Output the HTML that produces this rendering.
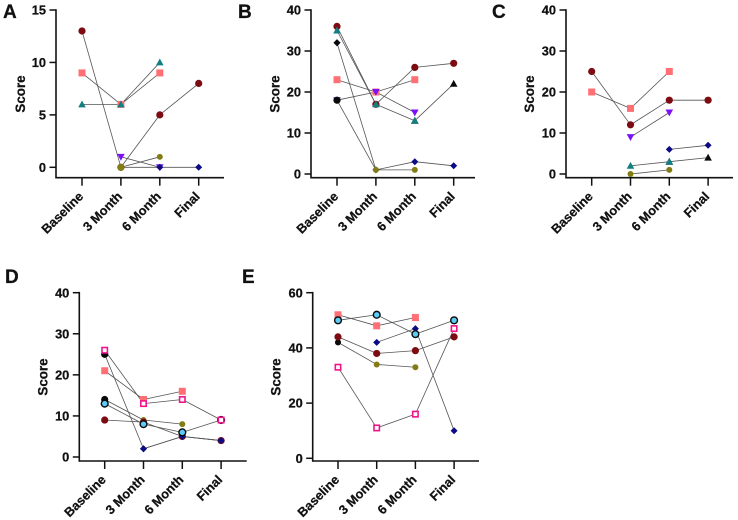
<!DOCTYPE html>
<html>
<head>
<meta charset="utf-8">
<title>Score charts</title>
<style>
html,body{margin:0;padding:0;background:#fff;width:738px;height:520px;overflow:hidden}
svg{display:block;filter:blur(0.35px)}
text{font-family:"Liberation Sans",sans-serif;font-weight:bold;fill:#111;stroke:#111;stroke-width:0.25px}
</style>
</head>
<body>
<svg id="figure" width="738" height="520" viewBox="0 0 738 520" xmlns="http://www.w3.org/2000/svg"></svg>
<script>
const categories = ['Baseline', '3 Month', '6 Month', 'Final'];
const yLabel = 'Score';

const ticksA = [0, 5, 10, 15];
const ticksB = [0, 10, 20, 30, 40];
const ticksC = [0, 10, 20, 30, 40];
const ticksD = [0, 10, 20, 30, 40];
const ticksE = [0, 20, 40, 60];

const aSalmon = [9, 6, 9, null];
const aTeal = [6, 6, 10, null];
const aPurple = [null, 1, 0, null];
const aNavy = [null, 0, 0, 0];
const aMaroon = [13, 0, 5, 8];
const aOlive = [null, 0, 1, null];
const aOliveCover = [null, 0, null, null];

const bNavy = [32, 1, 3, 2];
const bOlive = [18, 1, 1, null];
const bPurple = [18, 20, 15, null];
const bBlackCircle = [18, null, null, null];
const bBlackDiamond = [32, null, null, null];
const bBlackTriangle = [null, null, 13, 22];
const bMaroon = [36, 17, 26, 27];
const bSalmon = [23, 20, 23, null];
const bTeal = [35, 17, 13, null];

const cMaroon = [25, 12, 18, 18];
const cSalmon = [20, 16, 25, null];
const cPurple = [null, 9, 15, null];
const cNavy = [null, null, 6, 7];
const cBlackTriangle = [null, null, 3, 4];
const cTeal = [null, 2, 3, null];
const cOlive = [null, 0, 1, null];

const dNavy = [25, 2, 5, 4];
const dOlive = [14, 9, 8, null];
const dBlackTop = [25, null, null, null];
const dBlackMid = [14, null, null, null];
const dSalmon = [21, 14, 16, null];
const dMaroon = [9, 8.5, 5, 4];
const dNavyTop = [null, 2, 5, 4];
const dBlue = [13, 8, 6, 9];
const dPink = [26, 13, 14, 9];

const eSalmon = [52, 48, 51, null];
const eOlive = [42, 34, 33, null];
const eBlack = [42, null, null, null];
const eMaroon = [44, 38, 39, 44];
const eNavy = [null, 42, 47, 10];
const eBlue = [50, 52, 45, 50];
const ePink = [33, 11, 16, 47];

const NS = 'http://www.w3.org/2000/svg';
const svg = document.getElementById('figure');

function make(parent, tag, attrs) {
  const el = document.createElementNS(NS, tag);
  for (const k in attrs) el.setAttribute(k, attrs[k]);
  parent.appendChild(el);
  return el;
}

const colors = {
  salmon: '#ff6f73', teal: '#128082', purple: '#7a12f5', navy: '#0b0b86',
  maroon: '#7d0c12', olive: '#827c12', black: '#0a0a0a', blue: '#5ccbf5', pink: '#f0148c'
};

function drawMarker(g, kind, color, x, y) {
  const c = colors[color];
  let el;
  if (kind === 'circle') {
    el = make(g, 'circle', {cx: x, cy: y, r: 3.6, fill: c});
  } else if (kind === 'small-circle') {
    el = make(g, 'circle', {cx: x, cy: y, r: 3, fill: c});
  } else if (kind === 'square') {
    el = make(g, 'rect', {x: x - 3.5, y: y - 3.5, width: 7, height: 7, fill: c});
  } else if (kind === 'triangle') {
    el = make(g, 'polygon', {points: (x - 3.8) + ',' + (y + 3) + ' ' + (x + 3.8) + ',' + (y + 3) + ' ' + x + ',' + (y - 3.9), fill: c});
  } else if (kind === 'inverted-triangle') {
    el = make(g, 'polygon', {points: (x - 3.8) + ',' + (y - 3) + ' ' + (x + 3.8) + ',' + (y - 3) + ' ' + x + ',' + (y + 3.9), fill: c});
  } else if (kind === 'diamond') {
    el = make(g, 'polygon', {points: x + ',' + (y - 3.5) + ' ' + (x + 3.5) + ',' + y + ' ' + x + ',' + (y + 3.5) + ' ' + (x - 3.5) + ',' + y, fill: c});
  } else if (kind === 'ring') {
    el = make(g, 'circle', {cx: x, cy: y, r: 3.4, fill: c, stroke: '#0a0a0a', 'stroke-width': 1.4});
  } else if (kind === 'open-square') {
    el = make(g, 'rect', {x: x - 2.7, y: y - 2.7, width: 5.4, height: 5.4, fill: '#fff', stroke: c, 'stroke-width': 1.6});
  }
  
  
}

function drawPanel(p) {
  const g = make(svg, 'g', {});
  
  

  const xAt = i => p.firstX + i * p.stepX;
  const maxTick = p.ticks[p.ticks.length - 1];
  const yAt = v => p.zeroY + (p.topY - p.zeroY) * v / maxTick;

  const letter = make(g, 'text', {x: p.letterX, y: p.letterY, 'font-size': 19});
  letter.textContent = p.letter;
  
  

  const title = make(g, 'text', {x: 0, y: 0, 'font-size': 13.4, 'text-anchor': 'middle',
    transform: 'translate(' + p.titleX + ' ' + p.titleY + ') rotate(-90)'});
  title.textContent = yLabel;
  
  

  const yAxis = make(g, 'line', {x1: p.axisX, y1: p.topY - 0.8, x2: p.axisX, y2: p.axisY + 0.8, stroke: '#111', 'stroke-width': 1.6});
  
  
  const xAxis = make(g, 'line', {x1: p.axisX, y1: p.axisY, x2: p.axisEnd, y2: p.axisY, stroke: '#111', 'stroke-width': 1.6});
  
  

  p.ticks.forEach(t => {
    const y = yAt(t);
    const tick = make(g, 'line', {x1: p.axisX - 6.5, y1: y, x2: p.axisX, y2: y, stroke: '#111', 'stroke-width': 1.5});
    
    
    const lab = make(g, 'text', {x: p.axisX - 10, y: y + 4.6, 'font-size': 12.8, 'text-anchor': 'end'});
    lab.textContent = t;
    
    
  });

  categories.forEach((c, i) => {
    const x = xAt(i);
    const tick = make(g, 'line', {x1: x, y1: p.axisY, x2: x, y2: p.axisY + 8, stroke: '#111', 'stroke-width': 1.5});
    
    
    const lab = make(g, 'text', {x: 0, y: 0, 'font-size': 12.8, 'text-anchor': 'end',
      transform: 'translate(' + (x + 2) + ' ' + (p.axisY + 19.5) + ') rotate(-45)'});
    lab.textContent = c;
    
    
  });

  p.series.forEach(s => {
    for (let i = 0; i < s.values.length - 1; i++) {
      if (s.values[i] === null || s.values[i + 1] === null) continue;
      const seg = make(g, 'line', {x1: xAt(i), y1: yAt(s.values[i]), x2: xAt(i + 1), y2: yAt(s.values[i + 1]), stroke: '#555', 'stroke-width': 0.8});
      
      
    }
  });
  p.series.forEach(s => {
    s.values.forEach((v, i) => {
      if (v !== null) drawMarker(g, s.kind, s.color, xAt(i), yAt(v));
    });
  });
}

drawPanel({letter: 'A', letterX: 3, letterY: 18, titleX: 25, titleY: 94, axisX: 56, axisEnd: 224, axisY: 177.7,
  topY: 10, zeroY: 167.3, firstX: 82, stepX: 38.9, ticks: ticksA, series: [
  {values: aMaroon, kind: 'circle', color: 'maroon'},
  {values: aSalmon, kind: 'square', color: 'salmon'},
  {values: aTeal, kind: 'triangle', color: 'teal'},
  {values: aPurple, kind: 'inverted-triangle', color: 'purple'},
  {values: aNavy, kind: 'diamond', color: 'navy'},
  {values: aOlive, kind: 'small-circle', color: 'olive'},
  {values: aOliveCover, kind: 'circle', color: 'olive'}
]});

drawPanel({letter: 'B', letterX: 238, letterY: 18, titleX: 279.5, titleY: 94, axisX: 311, axisEnd: 475, axisY: 177.7,
  topY: 10, zeroY: 174, firstX: 337, stepX: 38.9, ticks: ticksB, series: [
  {values: bNavy, kind: 'diamond', color: 'navy'},
  {values: bOlive, kind: 'small-circle', color: 'olive'},
  {values: bBlackTriangle, kind: 'triangle', color: 'black'},
  {values: bMaroon, kind: 'circle', color: 'maroon'},
  {values: bSalmon, kind: 'square', color: 'salmon'},
  {values: bPurple, kind: 'inverted-triangle', color: 'purple'},
  {values: bTeal, kind: 'triangle', color: 'teal'},
  {values: bBlackCircle, kind: 'circle', color: 'black'},
  {values: bBlackDiamond, kind: 'diamond', color: 'black'}
]});

drawPanel({letter: 'C', letterX: 492, letterY: 18, titleX: 534, titleY: 94, axisX: 566, axisEnd: 733, axisY: 177.7,
  topY: 10, zeroY: 174, firstX: 591.7, stepX: 38.8, ticks: ticksC, series: [
  {values: cMaroon, kind: 'circle', color: 'maroon'},
  {values: cSalmon, kind: 'square', color: 'salmon'},
  {values: cPurple, kind: 'inverted-triangle', color: 'purple'},
  {values: cNavy, kind: 'diamond', color: 'navy'},
  {values: cBlackTriangle, kind: 'triangle', color: 'black'},
  {values: cTeal, kind: 'triangle', color: 'teal'},
  {values: cOlive, kind: 'small-circle', color: 'olive'}
]});

drawPanel({letter: 'D', letterX: 5, letterY: 283, titleX: 47.5, titleY: 377, axisX: 79.3, axisEnd: 246.7, axisY: 461,
  topY: 292.7, zeroY: 457, firstX: 104.7, stepX: 38.8, ticks: ticksD, series: [
  {values: dNavy, kind: 'diamond', color: 'navy'},
  {values: dOlive, kind: 'small-circle', color: 'olive'},
  {values: dBlackTop, kind: 'circle', color: 'black'},
  {values: dBlackMid, kind: 'circle', color: 'black'},
  {values: dSalmon, kind: 'square', color: 'salmon'},
  {values: dMaroon, kind: 'circle', color: 'maroon'},
  {values: dNavyTop, kind: 'diamond', color: 'navy'},
  {values: dBlue, kind: 'ring', color: 'blue'},
  {values: dPink, kind: 'open-square', color: 'pink'}
]});

drawPanel({letter: 'E', letterX: 242, letterY: 283, titleX: 280.7, titleY: 377, axisX: 312.7, axisEnd: 479, axisY: 461,
  topY: 292.7, zeroY: 458.3, firstX: 338, stepX: 38.7, ticks: ticksE, series: [
  {values: eSalmon, kind: 'square', color: 'salmon'},
  {values: eOlive, kind: 'small-circle', color: 'olive'},
  {values: eBlack, kind: 'small-circle', color: 'black'},
  {values: eMaroon, kind: 'circle', color: 'maroon'},
  {values: eNavy, kind: 'diamond', color: 'navy'},
  {values: eBlue, kind: 'ring', color: 'blue'},
  {values: ePink, kind: 'open-square', color: 'pink'}
]});
</script>
</body>
</html>
